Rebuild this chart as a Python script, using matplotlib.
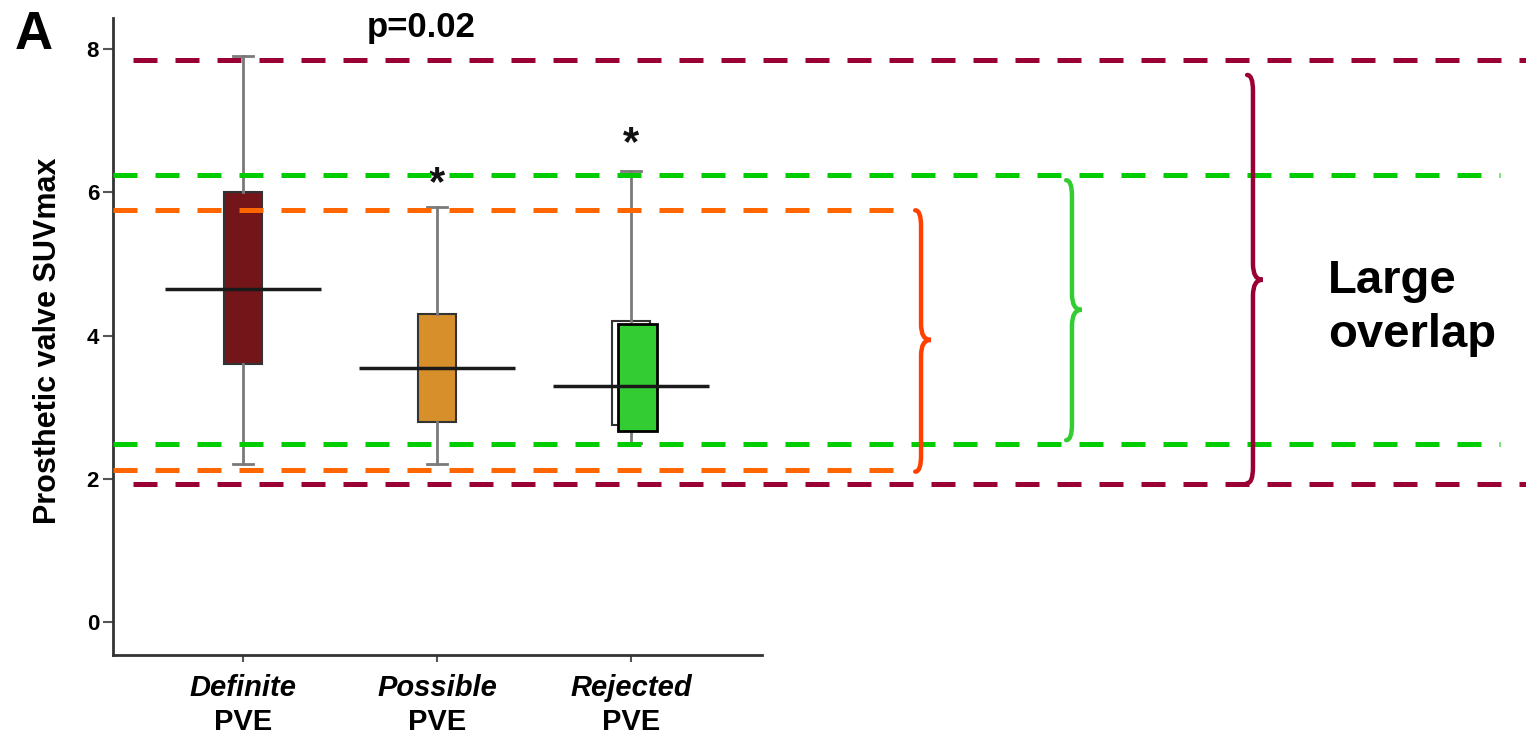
import matplotlib
matplotlib.use("Agg")
import matplotlib.pyplot as plt
from matplotlib.path import Path
from matplotlib.patches import PathPatch

plt.rcParams['font.family'] = ['Liberation Sans', 'DejaVu Sans']
plt.rcParams['font.weight'] = 'bold'

# --- data ---
groups = ["Definite", "Possible", "Rejected"]
q1 = [3.6, 2.8, 2.75]
med = [4.65, 3.55, 3.3]
q3 = [6.0, 4.3, 4.2]
whislo = [2.2, 2.2, 2.5]
whishi = [7.9, 5.8, 6.3]
box_colors = ["#741519", "#d68f2a", "white"]
star_y = [None, 6.12, 6.68]

# shifted green box drawn over the rejected group
rej_box = (2.67, 4.16)

# range lines: (low, high, colour, x start, x end)
range_lo = [2.12, 2.48, 1.93]
range_hi = [5.75, 6.25, 7.85]
range_colors = ["#ff6600", "#00cc00", "#990033"]
range_x0 = [-0.67, -0.67, -0.567]
range_x1 = [3.36, 6.48, 6.62]

# braces: bottom, top, tip, x
brace_lo = [2.10, 2.54, 1.94]
brace_hi = [5.75, 6.17, 7.64]
brace_mid = [3.94, 4.36, 4.78]
brace_x = [3.495, 4.273, 5.206]
brace_colors = ["#ff4000", "#33cc33", "#990033"]


def brace(ax, x, lo, hi, mid, color, w=0.05, c=0.03, h=0.22):
    verts = [(x - c, hi), (x, hi), (x, hi - h),
             (x, mid + h),
             (x, mid), (x + w, mid),
             (x, mid), (x, mid - h),
             (x, lo + h),
             (x, lo), (x - c, lo)]
    codes = [Path.MOVETO, Path.CURVE3, Path.CURVE3,
             Path.LINETO,
             Path.CURVE3, Path.CURVE3,
             Path.CURVE3, Path.CURVE3,
             Path.LINETO,
             Path.CURVE3, Path.CURVE3]
    ax.add_patch(PathPatch(Path(verts, codes), facecolor="none",
                           edgecolor=color, lw=3.2, capstyle="round",
                           zorder=6, clip_on=False))


fig = plt.figure(figsize=(15.26, 7.36), dpi=100)
ax = fig.add_axes([0.07405, 0.11005, 0.92595, 0.86549])

stats = [dict(med=med[i], q1=q1[i], q3=q3[i], whislo=whislo[i],
              whishi=whishi[i], fliers=[]) for i in range(3)]
bp = ax.bxp(stats, positions=[0, 1, 2], widths=0.2, patch_artist=True,
            showfliers=False,
            boxprops=dict(edgecolor="#333333", lw=1.5),
            whiskerprops=dict(color="#7a7a7a", lw=2),
            capprops=dict(color="#7a7a7a", lw=2),
            medianprops=dict(visible=False))
for patch, col in zip(bp["boxes"], box_colors):
    patch.set_facecolor(col)

ax.bar(2.035, rej_box[1] - rej_box[0], bottom=rej_box[0], width=0.2,
       color="#33cc33", edgecolor="black", lw=2, zorder=3)

ax.hlines(med, [p - 0.4 for p in range(3)], [p + 0.4 for p in range(3)],
          colors="#1a1a1a", lw=2.5, zorder=4)

for i, y in enumerate(star_y):
    if y is not None:
        ax.text(i, y, "*", ha="center", va="center", fontsize=30,
                fontweight="bold", color="#111111")

for lo, hi, col, x0, x1 in zip(range_lo, range_hi, range_colors, range_x0, range_x1):
    for y in (lo, hi):
        ax.plot([x0, x1], [y, y], color=col, lw=3.6, dashes=(4.8, 3.6),
                zorder=5, clip_on=False, solid_capstyle="butt",
                dash_capstyle="butt")

for x, lo, hi, mid, col in zip(brace_x, brace_lo, brace_hi, brace_mid, brace_colors):
    brace(ax, x, lo, hi, mid, col)

ax.text(5.593, 4.385, "Large\noverlap", fontsize=34, fontweight="bold",
        ha="left", va="center", linespacing=1.3)
ax.text(0.92, 8.30, "p=0.02", fontsize=25, fontweight="bold",
        ha="center", va="center")
fig.text(15 / 1526, 1 - 10 / 736, "A", fontsize=38, fontweight="bold",
         ha="left", va="top")

ax.set_xlim(-0.6701, 6.6134)
ax.set_ylim(-0.461, 8.436)
for s in ("top", "right"):
    ax.spines[s].set_visible(False)
for s in ("left", "bottom"):
    ax.spines[s].set_linewidth(2)
    ax.spines[s].set_color("#333333")
ax.spines["bottom"].set_bounds(-0.6701, 2.675)

ax.set_yticks([0, 2, 4, 6, 8])
ax.set_yticklabels(["0", "2", "4", "6", "8"], fontsize=16, fontweight="bold")
ax.tick_params(axis="y", length=7, width=1.5, color="#555555", pad=3)
ax.set_xticks([0, 1, 2])
ax.set_xticklabels(groups, fontsize=21, fontweight="bold", fontstyle="italic")
ax.tick_params(axis="x", length=5, width=1.5, color="#555555", pad=9)
for i in range(3):
    ax.annotate("PVE", xy=(i, 0), xycoords=ax.get_xaxis_transform(),
                xytext=(0, -67 * 0.72), textcoords="offset points",
                ha="center", va="center", fontsize=21, fontweight="bold",
                annotation_clip=False)

ax.set_ylabel("Prosthetic valve SUVmax", fontsize=22, fontweight="bold")
ax.yaxis.set_label_coords(-0.0354, 0.494)

fig.savefig("out.png", dpi=100)
